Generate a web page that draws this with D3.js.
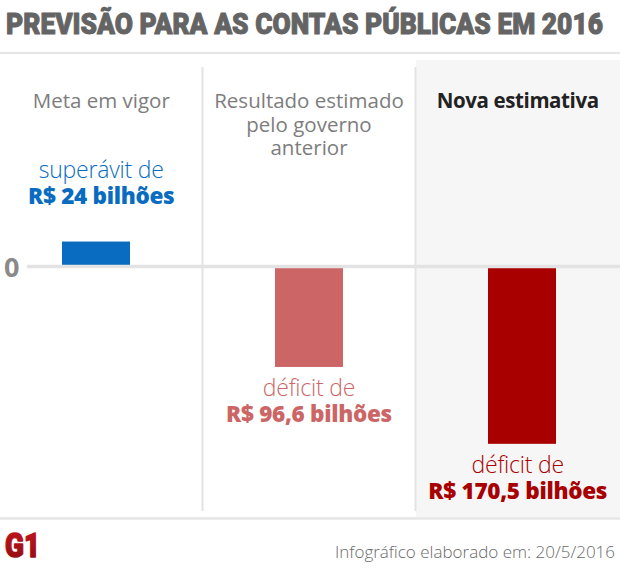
<!DOCTYPE html>
<html><head><meta charset="utf-8">
<script src="https://cdn.jsdelivr.net/npm/d3@7/dist/d3.min.js"></script>
<style>
html,body{margin:0;padding:0;background:#fff;}
svg{display:block;}
</style></head>
<body>
<svg id="c" width="620" height="569"></svg>
<script>
// ---- data ----
const title = "PREVISÃO PARA AS CONTAS PÚBLICAS EM 2016";
const categories = ["Meta em vigor", "Resultado estimado pelo governo anterior", "Nova estimativa"];
const headerLines = [["Meta em vigor"], ["Resultado estimado", "pelo governo", "anterior"], ["Nova estimativa"]];
const values = [24, -96.6, -170.5];
const kindLabels = ["superávit de", "déficit de", "déficit de"];
const valueLabels = ["R$ 24 bilhões", "R$ 96,6 bilhões", "R$ 170,5 bilhões"];
const yTicks = [0];
const footer = "Infográfico elaborado em: 20/5/2016";

// ---- drawing ----
const W = 620, H = 569;
const svg = d3.select("#c");
const color = d3.scaleOrdinal().domain(categories).range(["#0a6cc0", "#cc6666", "#a80000"]);

const x = d3.scaleBand().domain(categories).range([-10.5, 628.5])
  .paddingInner(0.6808).paddingOuter(0.3404);
const panel = d3.scaleBand().domain(categories).range([-10.5, 628.5]);
const y = d3.scaleLinear().domain([-200, 50]).range([266.5 + 208, 266.5 - 52]);
const panelCenter = c => (Math.max(0, panel(c)) + Math.min(W, panel(c) + panel.bandwidth())) / 2;

// highlighted panel background
const last = categories[categories.length - 1];
svg.append("rect").attr("x", panel(last) + 0.5).attr("y", 60)
  .attr("width", W - panel(last)).attr("height", 457).attr("fill", "#f6f6f6");

// title
svg.append("text").text(title).attr("x", 6).attr("y", 34)
  .attr("font-family", "Roboto, 'Open Sans', sans-serif").attr("font-weight", 900)
  .attr("font-size", 30).attr("fill", "#646464")
  .attr("stroke", "#646464").attr("stroke-width", 1).attr("stroke-linejoin", "round")
  .attr("textLength", 597).attr("lengthAdjust", "spacingAndGlyphs");

// top and bottom rules
svg.append("line").attr("x1", 0).attr("x2", W).attr("y1", 53).attr("y2", 53)
  .attr("stroke", "#e6e6e6").attr("stroke-width", 2);
svg.append("line").attr("x1", 0).attr("x2", W).attr("y1", 518.5).attr("y2", 518.5)
  .attr("stroke", "#e6e6e6").attr("stroke-width", 2.5);

// dividers
svg.selectAll("line.div").data(categories.slice(1)).join("line").attr("class", "div")
  .attr("x1", d => panel(d)).attr("x2", d => panel(d))
  .attr("y1", 67).attr("y2", 511)
  .attr("stroke", "#e3e3e3").attr("stroke-width", 2);

// headers
const hdr = svg.selectAll("text.hdr").data(categories).join("text").attr("class", "hdr")
  .attr("text-anchor", "middle")
  .attr("font-family", "'Open Sans', sans-serif")
  .attr("font-size", 20.5)
  .attr("font-weight", (d, i) => i === categories.length - 1 ? 700 : 400)
  .attr("letter-spacing", (d, i) => i === categories.length - 1 ? -0.4 : 0)
  .attr("fill", (d, i) => i === categories.length - 1 ? "#222" : "#7d7d7d");
hdr.each(function (d, i) {
  d3.select(this).selectAll("tspan").data(headerLines[i]).join("tspan")
    .attr("x", panelCenter(d)).attr("y", (t, j) => 108 + j * 23.7).text(t => t);
});

// bars
svg.selectAll("rect.bar").data(categories).join("rect").attr("class", "bar")
  .attr("x", d => x(d)).attr("width", x.bandwidth())
  .attr("y", (d, i) => y(Math.max(0, values[i])))
  .attr("height", (d, i) => Math.abs(y(values[i]) - y(0)))
  .attr("fill", d => color(d));

// zero line + label
svg.selectAll("line.zero").data(yTicks).join("line").attr("class", "zero")
  .attr("x1", 27).attr("x2", W).attr("y1", d => y(d)).attr("y2", d => y(d))
  .attr("stroke", "#e3e3e3").attr("stroke-width", 3.5);
svg.selectAll("text.tick").data(yTicks).join("text").attr("class", "tick")
  .attr("x", 4).attr("y", d => y(d) + 10)
  .attr("font-family", "'Open Sans', sans-serif").attr("font-weight", 700)
  .attr("font-size", 27).attr("fill", "#8a8a8a").text(d => d);

// value labels
categories.forEach((c, i) => {
  const v = values[i];
  const cx = panelCenter(c);
  const base = v >= 0 ? y(v) - 38 : y(v) + 55;
  const g = svg.append("g").attr("fill", color(c)).attr("text-anchor", "middle")
    .attr("font-family", "'Open Sans', sans-serif");
  g.append("text").attr("x", cx).attr("y", base - 25.5)
    .attr("font-weight", 300).attr("font-size", 23).attr("letter-spacing", -0.2)
    .text(kindLabels[i]);
  g.append("text").attr("x", cx).attr("y", base)
    .attr("font-weight", 800).attr("font-size", 22.5).attr("letter-spacing", -0.3)
    .text(valueLabels[i]);
});

// footer
const defs = svg.append("defs");
const grad = defs.append("linearGradient").attr("id", "g1grad")
  .attr("x1", 0).attr("y1", 0).attr("x2", 0).attr("y2", 1);
grad.append("stop").attr("offset", "0%").attr("stop-color", "#c4161c");
grad.append("stop").attr("offset", "100%").attr("stop-color", "#8e0b12");
svg.append("text").text("G1").attr("x", 5).attr("y", 557)
  .attr("font-family", "Roboto, sans-serif").attr("font-weight", 900)
  .attr("font-size", 33).attr("fill", "url(#g1grad)")
  .attr("stroke", "url(#g1grad)").attr("stroke-width", 1.5).attr("stroke-linejoin", "round")
  .attr("textLength", 35).attr("lengthAdjust", "spacingAndGlyphs");
svg.append("text").text(footer).attr("x", 615).attr("y", 558)
  .attr("text-anchor", "end").attr("font-family", "'Open Sans', sans-serif")
  .attr("font-weight", 300).attr("font-size", 17).attr("fill", "#6a6a6a");
</script>
</body></html>
